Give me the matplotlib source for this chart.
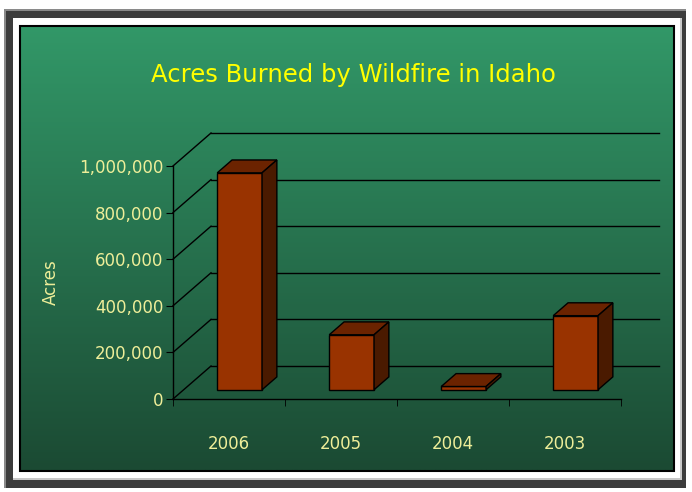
import matplotlib
matplotlib.use("Agg")
import matplotlib.pyplot as plt
import numpy as np
from matplotlib.patches import Rectangle, Polygon

years = ["2006", "2005", "2004", "2003"]
acres = [931000, 236000, 14000, 318000]
yticks = [0, 200000, 400000, 600000, 800000, 1000000]

txt_col = "#eeee99"
front_col = "#993300"
top_col = "#6b2300"
side_col = "#4a1a00"

W, H = 692, 492
fig = plt.figure(figsize=(W / 100, H / 100), dpi=100)
fig.patch.set_facecolor("white")

# background / frame in pixel coords
bg = fig.add_axes([0, 0, 1, 1], zorder=0)
bg.add_patch(Rectangle((4, 9), 682, 479, facecolor="#3c3c3c", edgecolor="none", zorder=1))
bg.add_patch(Rectangle((4, 9), 2, 479, facecolor="#8a8a8a", edgecolor="none", zorder=1))
bg.add_patch(Rectangle((4, 9), 682, 1.5, facecolor="#8a8a8a", edgecolor="none", zorder=1))
bg.add_patch(Rectangle((13, 18), 669, 462, facecolor="#c8c8c8", edgecolor="none", zorder=1))
bg.add_patch(Rectangle((13, 18), 667, 460, facecolor="white", edgecolor="none", zorder=1))

top_rgb = np.array([50, 152, 104]) / 255
bot_rgb = np.array([27, 74, 51]) / 255
t = np.linspace(0, 1, 256)[:, None]
grad = top_rgb[None, :] * (1 - t) + bot_rgb[None, :] * t
grad = np.repeat(grad[:, None, :], 2, axis=1)
bg.imshow(grad, extent=(19.5, 673.5, 470.5, 25.5), aspect="auto",
          interpolation="bilinear", zorder=2)
bg.add_patch(Rectangle((19.5, 25.5), 654, 445, facecolor="none", edgecolor="black",
                       lw=1.5, zorder=3))
bg.set_xlim(0, W)
bg.set_ylim(H, 0)
bg.axis("off")

# main chart axes = front plane
ax = fig.add_axes([173 / W, 93 / H, 448 / W, 233 / H], zorder=1)
ax.patch.set_alpha(0)
ax.set_xlim(-0.5, 3.5)
ax.set_ylim(0, 1000000)

DX = 38 / 112          # depth offset in category units
DY = 33 / 233 * 1e6    # depth offset in value units
bw = 0.40
f0, f1 = 0.28, 0.67

# back wall gridlines and side diagonals
for v in yticks:
    ax.plot([-0.5, -0.5 + DX], [v, v + DY], color="black", lw=1, clip_on=False)
    ax.plot([-0.5 + DX, 3.5 + DX], [v + DY, v + DY], color="black", lw=1, clip_on=False)

ddx = (f1 - f0) * DX
ddy = (f1 - f0) * DY
for i, val in enumerate(acres):
    xl = i - bw / 2 + f0 * DX
    y0 = f0 * DY
    ax.add_patch(Rectangle((xl, y0), bw, val, facecolor=front_col,
                           edgecolor="black", lw=1, clip_on=False, zorder=3))
    ax.add_patch(Polygon([(xl, y0 + val), (xl + bw, y0 + val),
                          (xl + bw + ddx, y0 + val + ddy), (xl + ddx, y0 + val + ddy)],
                         closed=True, facecolor=top_col, edgecolor="black", lw=1,
                         clip_on=False, zorder=3))
    ax.add_patch(Polygon([(xl + bw, y0), (xl + bw, y0 + val),
                          (xl + bw + ddx, y0 + val + ddy), (xl + bw + ddx, y0 + ddy)],
                         closed=True, facecolor=side_col, edgecolor="black", lw=1,
                         clip_on=False, zorder=3))

for s in ["top", "right"]:
    ax.spines[s].set_visible(False)
for s in ["left", "bottom"]:
    ax.spines[s].set_color("black")
    ax.spines[s].set_linewidth(1)

ax.set_yticks(yticks)
ax.set_yticklabels([f"{v:,}" for v in yticks])
ax.tick_params(axis="y", direction="out", length=5, color="black", pad=2,
               labelcolor=txt_col, labelsize=12)
ax.set_xticks(range(len(years)))
ax.set_xticklabels(years)
ax.set_xticks([-0.5, 0.5, 1.5, 2.5, 3.5], minor=True)
ax.tick_params(axis="x", which="major", length=0, pad=26, labelcolor=txt_col, labelsize=12)
ax.tick_params(axis="x", which="minor", direction="out", length=5, color="black")

ax.set_ylabel("Acres", color=txt_col, fontsize=12)
ax.yaxis.set_label_coords(-0.252, 0.502)

fig.text(353 / W, 1 - 75 / H, "Acres Burned by Wildfire in Idaho", color="#ffff00",
         fontsize=17.5, ha="center", va="center")

fig.savefig("out.png", dpi=100)
